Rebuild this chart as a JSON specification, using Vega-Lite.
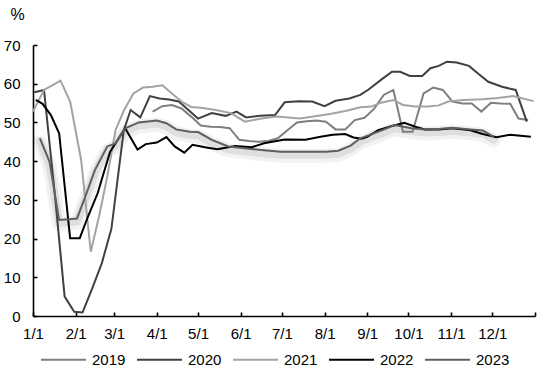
{
  "$schema": "https://vega.github.io/schema/vega-lite/v6.json",
  "width": 502,
  "height": 271,
  "autosize": {"type": "none"},
  "padding": {"left": 33, "top": 45, "right": 4, "bottom": 56},
  "background": "white",
  "config": {
    "view": {"stroke": null},
    "font": "Liberation Sans",
    "axis": {"grid": false, "domainColor": "#000", "domainWidth": 1.6, "tickColor": "#000", "tickWidth": 1.6, "labelColor": "#000", "labelFontSize": 15, "labelFont": "Liberation Sans"},
    "legend": {"labelFont": "Liberation Sans"}
  },
  "data": {"values": [
    {"year":"2019","date":"2001-03-29","v":52.8},{"year":"2019","date":"2001-04-05","v":54.2},{"year":"2019","date":"2001-04-12","v":54.5},{"year":"2019","date":"2001-04-19","v":53.6},{"year":"2019","date":"2001-04-26","v":51.5},{"year":"2019","date":"2001-05-03","v":49.2},{"year":"2019","date":"2001-05-10","v":48.9},{"year":"2019","date":"2001-05-17","v":48.8},{"year":"2019","date":"2001-05-24","v":48.5},{"year":"2019","date":"2001-05-31","v":45.5},{"year":"2019","date":"2001-06-07","v":45.2},{"year":"2019","date":"2001-06-14","v":45.0},{"year":"2019","date":"2001-06-21","v":45.2},{"year":"2019","date":"2001-06-28","v":45.9},{"year":"2019","date":"2001-07-05","v":48.0},{"year":"2019","date":"2001-07-12","v":50.0},{"year":"2019","date":"2001-07-19","v":50.3},{"year":"2019","date":"2001-07-26","v":50.5},{"year":"2019","date":"2001-08-02","v":50.2},{"year":"2019","date":"2001-08-09","v":48.2},{"year":"2019","date":"2001-08-16","v":48.2},{"year":"2019","date":"2001-08-23","v":50.6},{"year":"2019","date":"2001-08-30","v":51.2},{"year":"2019","date":"2001-09-06","v":53.5},{"year":"2019","date":"2001-09-13","v":57.1},{"year":"2019","date":"2001-09-20","v":58.4},{"year":"2019","date":"2001-09-27","v":47.6},{"year":"2019","date":"2001-10-04","v":47.6},{"year":"2019","date":"2001-10-12","v":57.5},{"year":"2019","date":"2001-10-19","v":59.0},{"year":"2019","date":"2001-10-26","v":58.4},{"year":"2019","date":"2001-11-02","v":55.4},{"year":"2019","date":"2001-11-09","v":54.9},{"year":"2019","date":"2001-11-16","v":54.9},{"year":"2019","date":"2001-11-23","v":52.8},{"year":"2019","date":"2001-11-30","v":55.1},{"year":"2019","date":"2001-12-07","v":54.9},{"year":"2019","date":"2001-12-14","v":54.8},{"year":"2019","date":"2001-12-20","v":51.0},{"year":"2019","date":"2001-12-27","v":50.6},

    {"year":"2020","date":"2001-01-02","v":57.8},{"year":"2020","date":"2001-01-09","v":58.4},{"year":"2020","date":"2001-01-17","v":31.0},{"year":"2020","date":"2001-01-24","v":5.0},{"year":"2020","date":"2001-01-31","v":1.1},{"year":"2020","date":"2001-02-06","v":0.9},{"year":"2020","date":"2001-02-13","v":7.1},{"year":"2020","date":"2001-02-20","v":13.6},{"year":"2020","date":"2001-02-27","v":22.5},{"year":"2020","date":"2001-03-08","v":48.0},{"year":"2020","date":"2001-03-13","v":53.2},{"year":"2020","date":"2001-03-20","v":51.3},{"year":"2020","date":"2001-03-27","v":56.8},{"year":"2020","date":"2001-04-03","v":56.2},{"year":"2020","date":"2001-04-10","v":55.9},{"year":"2020","date":"2001-04-17","v":55.4},{"year":"2020","date":"2001-04-24","v":53.2},{"year":"2020","date":"2001-05-01","v":51.0},{"year":"2020","date":"2001-05-11","v":52.4},{"year":"2020","date":"2001-05-21","v":51.7},{"year":"2020","date":"2001-05-29","v":52.8},{"year":"2020","date":"2001-06-05","v":51.3},{"year":"2020","date":"2001-06-15","v":51.7},{"year":"2020","date":"2001-06-26","v":51.9},{"year":"2020","date":"2001-07-03","v":55.2},{"year":"2020","date":"2001-07-13","v":55.5},{"year":"2020","date":"2001-07-23","v":55.4},{"year":"2020","date":"2001-08-01","v":54.2},{"year":"2020","date":"2001-08-09","v":55.6},{"year":"2020","date":"2001-08-19","v":56.2},{"year":"2020","date":"2001-08-27","v":57.1},{"year":"2020","date":"2001-09-02","v":58.5},{"year":"2020","date":"2001-09-11","v":61.0},{"year":"2020","date":"2001-09-19","v":63.1},{"year":"2020","date":"2001-09-25","v":63.1},{"year":"2020","date":"2001-10-02","v":62.0},{"year":"2020","date":"2001-10-11","v":62.0},{"year":"2020","date":"2001-10-17","v":64.0},{"year":"2020","date":"2001-10-23","v":64.6},{"year":"2020","date":"2001-10-29","v":65.7},{"year":"2020","date":"2001-11-05","v":65.5},{"year":"2020","date":"2001-11-14","v":64.6},{"year":"2020","date":"2001-11-21","v":62.5},{"year":"2020","date":"2001-11-28","v":60.5},{"year":"2020","date":"2001-12-08","v":59.2},{"year":"2020","date":"2001-12-18","v":58.4},{"year":"2020","date":"2001-12-26","v":50.2},

    {"year":"2021","date":"2001-01-01","v":52.8},{"year":"2021","date":"2001-01-09","v":58.4},{"year":"2021","date":"2001-01-15","v":59.6},{"year":"2021","date":"2001-01-21","v":60.8},{"year":"2021","date":"2001-01-28","v":55.4},{"year":"2021","date":"2001-02-05","v":40.3},{"year":"2021","date":"2001-02-12","v":16.6},{"year":"2021","date":"2001-02-18","v":25.7},{"year":"2021","date":"2001-02-24","v":36.0},{"year":"2021","date":"2001-03-02","v":48.0},{"year":"2021","date":"2001-03-08","v":53.0},{"year":"2021","date":"2001-03-15","v":57.5},{"year":"2021","date":"2001-03-22","v":59.0},{"year":"2021","date":"2001-03-29","v":59.2},{"year":"2021","date":"2001-04-05","v":59.6},{"year":"2021","date":"2001-04-12","v":57.5},{"year":"2021","date":"2001-04-19","v":55.4},{"year":"2021","date":"2001-04-26","v":54.0},{"year":"2021","date":"2001-05-03","v":53.8},{"year":"2021","date":"2001-05-14","v":53.2},{"year":"2021","date":"2001-05-25","v":52.4},{"year":"2021","date":"2001-06-04","v":50.2},{"year":"2021","date":"2001-06-16","v":51.0},{"year":"2021","date":"2001-06-27","v":51.5},{"year":"2021","date":"2001-07-14","v":51.0},{"year":"2021","date":"2001-08-05","v":52.2},{"year":"2021","date":"2001-08-17","v":53.0},{"year":"2021","date":"2001-08-27","v":53.9},{"year":"2021","date":"2001-09-04","v":54.1},{"year":"2021","date":"2001-09-11","v":55.1},{"year":"2021","date":"2001-09-20","v":55.8},{"year":"2021","date":"2001-09-27","v":54.5},{"year":"2021","date":"2001-10-06","v":54.1},{"year":"2021","date":"2001-10-15","v":54.1},{"year":"2021","date":"2001-10-23","v":54.4},{"year":"2021","date":"2001-10-30","v":55.4},{"year":"2021","date":"2001-11-10","v":55.8},{"year":"2021","date":"2001-11-24","v":56.0},{"year":"2021","date":"2001-12-05","v":56.3},{"year":"2021","date":"2001-12-16","v":56.8},{"year":"2021","date":"2001-12-31","v":55.5},

    {"year":"2022","date":"2001-01-03","v":55.8},{"year":"2022","date":"2001-01-08","v":54.8},{"year":"2022","date":"2001-01-14","v":51.9},{"year":"2022","date":"2001-01-20","v":47.2},{"year":"2022","date":"2001-01-28","v":20.1},{"year":"2022","date":"2001-02-04","v":20.1},{"year":"2022","date":"2001-02-10","v":25.7},{"year":"2022","date":"2001-02-17","v":31.7},{"year":"2022","date":"2001-02-26","v":42.4},{"year":"2022","date":"2001-03-02","v":44.6},{"year":"2022","date":"2001-03-09","v":48.5},{"year":"2022","date":"2001-03-18","v":43.0},{"year":"2022","date":"2001-03-24","v":44.4},{"year":"2022","date":"2001-04-01","v":44.8},{"year":"2022","date":"2001-04-08","v":46.2},{"year":"2022","date":"2001-04-14","v":43.8},{"year":"2022","date":"2001-04-21","v":42.2},{"year":"2022","date":"2001-04-27","v":44.2},{"year":"2022","date":"2001-05-06","v":43.6},{"year":"2022","date":"2001-05-15","v":43.1},{"year":"2022","date":"2001-05-28","v":43.9},{"year":"2022","date":"2001-06-09","v":43.6},{"year":"2022","date":"2001-06-18","v":44.6},{"year":"2022","date":"2001-07-03","v":45.6},{"year":"2022","date":"2001-07-18","v":45.5},{"year":"2022","date":"2001-07-29","v":46.3},{"year":"2022","date":"2001-08-07","v":46.8},{"year":"2022","date":"2001-08-16","v":47.0},{"year":"2022","date":"2001-08-22","v":46.1},{"year":"2022","date":"2001-08-28","v":45.8},{"year":"2022","date":"2001-09-01","v":46.3},{"year":"2022","date":"2001-09-09","v":48.0},{"year":"2022","date":"2001-09-19","v":49.1},{"year":"2022","date":"2001-09-28","v":49.9},{"year":"2022","date":"2001-10-06","v":48.9},{"year":"2022","date":"2001-10-13","v":48.2},{"year":"2022","date":"2001-10-23","v":48.2},{"year":"2022","date":"2001-11-02","v":48.5},{"year":"2022","date":"2001-11-15","v":48.0},{"year":"2022","date":"2001-11-24","v":47.0},{"year":"2022","date":"2001-12-04","v":46.2},{"year":"2022","date":"2001-12-14","v":46.8},{"year":"2022","date":"2001-12-29","v":46.3},

    {"year":"2023","date":"2001-01-06","v":45.9},{"year":"2023","date":"2001-01-13","v":39.9},{"year":"2023","date":"2001-01-20","v":24.8},{"year":"2023","date":"2001-01-27","v":25.0},{"year":"2023","date":"2001-02-02","v":25.2},{"year":"2023","date":"2001-02-08","v":30.8},{"year":"2023","date":"2001-02-15","v":37.7},{"year":"2023","date":"2001-02-24","v":43.8},{"year":"2023","date":"2001-03-02","v":44.6},{"year":"2023","date":"2001-03-09","v":48.5},{"year":"2023","date":"2001-03-19","v":50.0},{"year":"2023","date":"2001-04-01","v":50.5},{"year":"2023","date":"2001-04-08","v":49.8},{"year":"2023","date":"2001-04-15","v":48.2},{"year":"2023","date":"2001-04-25","v":47.6},{"year":"2023","date":"2001-05-01","v":47.5},{"year":"2023","date":"2001-05-11","v":45.5},{"year":"2023","date":"2001-05-23","v":43.8},{"year":"2023","date":"2001-06-04","v":43.3},{"year":"2023","date":"2001-06-16","v":42.9},{"year":"2023","date":"2001-06-30","v":42.4},{"year":"2023","date":"2001-07-14","v":42.4},{"year":"2023","date":"2001-08-02","v":42.4},{"year":"2023","date":"2001-08-11","v":42.7},{"year":"2023","date":"2001-08-20","v":44.0},{"year":"2023","date":"2001-08-27","v":45.9},{"year":"2023","date":"2001-09-03","v":46.8},{"year":"2023","date":"2001-09-12","v":48.0},{"year":"2023","date":"2001-09-21","v":49.3},{"year":"2023","date":"2001-10-03","v":48.5},{"year":"2023","date":"2001-10-13","v":48.2},{"year":"2023","date":"2001-10-23","v":48.3},{"year":"2023","date":"2001-11-02","v":48.6},{"year":"2023","date":"2001-11-15","v":48.2},{"year":"2023","date":"2001-11-24","v":47.9},{"year":"2023","date":"2001-12-02","v":46.3}
  ]},
  "encoding": {
    "x": {
      "field": "date", "type": "temporal",
      "scale": {"type": "utc", "domain": [{"year": 2001, "month": 1, "date": 1, "utc": true}, {"year": 2002, "month": 1, "date": 1, "utc": true}]},
      "axis": {
        "title": null,
        "values": [
          {"year": 2001, "month": 1, "date": 1, "utc": true}, {"year": 2001, "month": 2, "date": 1, "utc": true}, {"year": 2001, "month": 3, "date": 1, "utc": true}, {"year": 2001, "month": 4, "date": 1, "utc": true}, {"year": 2001, "month": 5, "date": 1, "utc": true}, {"year": 2001, "month": 6, "date": 1, "utc": true}, {"year": 2001, "month": 7, "date": 1, "utc": true}, {"year": 2001, "month": 8, "date": 1, "utc": true}, {"year": 2001, "month": 9, "date": 1, "utc": true}, {"year": 2001, "month": 10, "date": 1, "utc": true}, {"year": 2001, "month": 11, "date": 1, "utc": true}, {"year": 2001, "month": 12, "date": 1, "utc": true}, {"year": 2002, "month": 1, "date": 1, "utc": true}
        ],
        "labelExpr": "utcyear(datum.value) > 2001 ? '' : (utcmonth(datum.value) + 1) + '/1'",
        "labelFlush": false,
        "labelOverlap": false,
        "tickSize": -4,
        "labelPadding": 14
      }
    },
    "y": {
      "field": "v", "type": "quantitative",
      "scale": {"domain": [0, 70]},
      "axis": {
        "values": [0, 10, 20, 30, 40, 50, 60, 70],
        "title": "%", "titleAngle": 0, "titleX": -16, "titleY": -31, "titleAlign": "center", "titleBaseline": "middle", "titleFontSize": 16, "titleFontWeight": "normal", "titleFont": "Liberation Sans",
        "tickSize": -4,
        "labelPadding": 17,
        "labelFlush": false
      }
    }
  },
  "layer": [
    {"transform": [{"filter": "datum.year === '2023'"}], "mark": {"type": "line", "stroke": "#000", "strokeWidth": 14, "opacity": 0.05, "yOffset": 4, "strokeJoin": "round", "strokeCap": "round"}},
    {"transform": [{"filter": "datum.year === '2023'"}], "mark": {"type": "line", "stroke": "#000", "strokeWidth": 8, "opacity": 0.08, "yOffset": 3, "strokeJoin": "round", "strokeCap": "round"}},
    {
      "mark": {"type": "line", "strokeWidth": 2},
      "encoding": {
        "color": {
          "field": "year", "type": "nominal",
          "scale": {"domain": ["2019", "2020", "2021", "2022", "2023"], "range": ["#7f7f7f", "#404040", "#a3a3a3", "#000000", "#5f5f5f"]},
          "legend": {"orient": "none", "direction": "horizontal", "legendX": 7, "legendY": 291, "title": null, "symbolType": "stroke", "symbolSize": 2025, "symbolStrokeWidth": 2, "labelFontSize": 15, "labelOffset": 5, "columnPadding": 7, "labelColor": "#000"}
        }
      }
    }
  ]
}
